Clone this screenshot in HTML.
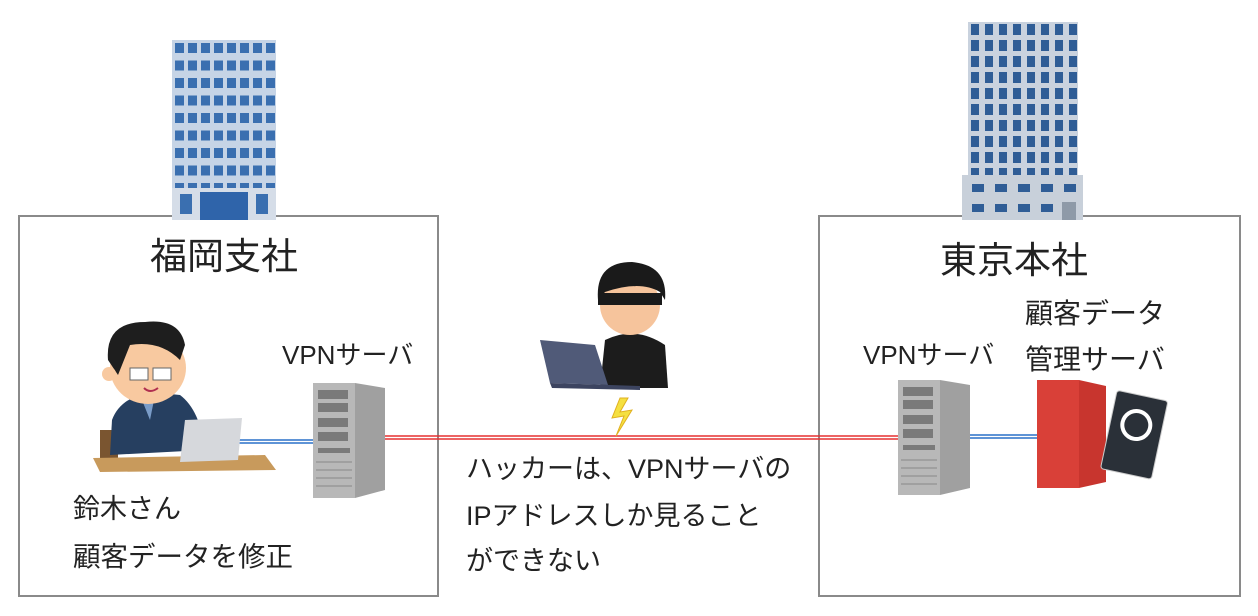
<!DOCTYPE html>
<html><head><meta charset="utf-8"><style>
html,body{margin:0;padding:0;background:#fff;}
body{width:1258px;height:616px;overflow:hidden;position:relative;font-family:"Liberation Sans","Noto Sans CJK JP",sans-serif;color:#222;}
.t{position:absolute;white-space:nowrap;}
</style></head><body>
<svg width="1258" height="616" style="position:absolute;left:0;top:0">
<defs>
<pattern id="winL" x="172" y="40" width="13" height="17.5" patternUnits="userSpaceOnUse">
<rect x="3" y="3" width="9" height="10" fill="#3a6fb0"/>
</pattern>
<pattern id="winR" x="968" y="22" width="14" height="16" patternUnits="userSpaceOnUse">
<rect x="3" y="2" width="8" height="11" fill="#2f5d96"/>
</pattern>
</defs>
<rect x="19" y="216" width="419" height="380" fill="none" stroke="#8a8a8a" stroke-width="2"/>
<rect x="819" y="216" width="421" height="380" fill="none" stroke="#8a8a8a" stroke-width="2"/>
<rect x="172" y="40" width="104" height="180" fill="#c6d4e6"/>
<rect x="172" y="40" width="104" height="150" fill="url(#winL)"/>
<rect x="172" y="188" width="104" height="32" fill="#d5dde8"/>
<rect x="180" y="194" width="12" height="20" fill="#3a6fb0"/>
<rect x="200" y="192" width="48" height="28" fill="#2f64aa"/>
<rect x="256" y="194" width="12" height="20" fill="#3a6fb0"/>
<rect x="968" y="22" width="110" height="155" fill="#c9d2de"/>
<rect x="968" y="22" width="110" height="155" fill="url(#winR)"/>
<rect x="962" y="175" width="121" height="45" fill="#c8d0da"/>
<g fill="#2f5d96">
<rect x="972" y="184" width="12" height="8"/><rect x="995" y="184" width="12" height="8"/><rect x="1018" y="184" width="12" height="8"/><rect x="1041" y="184" width="12" height="8"/><rect x="1064" y="184" width="12" height="8"/>
<rect x="972" y="204" width="12" height="8"/><rect x="995" y="204" width="12" height="8"/><rect x="1018" y="204" width="12" height="8"/><rect x="1041" y="204" width="12" height="8"/>
</g>
<rect x="1062" y="202" width="14" height="18" fill="#8e9aa8"/>
<line x1="385" y1="436" x2="898" y2="436" stroke="#e53030" stroke-width="1.5"/>
<line x1="385" y1="439" x2="898" y2="439" stroke="#e53030" stroke-width="1.5"/>
<line x1="234" y1="440" x2="313" y2="440" stroke="#2a70c8" stroke-width="1.5"/>
<line x1="234" y1="443" x2="313" y2="443" stroke="#2a70c8" stroke-width="1.5"/>
<line x1="970" y1="435" x2="1038" y2="435" stroke="#2a70c8" stroke-width="1.5"/>
<line x1="970" y1="438" x2="1038" y2="438" stroke="#2a70c8" stroke-width="1.5"/>
<rect x="100" y="430" width="18" height="30" fill="#7a5530"/>
<path d="M112 420 Q120 398 150 392 L180 395 Q200 410 205 450 L110 455 Z" fill="#263f60"/>
<path d="M140 395 L150 420 L155 395 Z" fill="#7a9cc8"/>
<ellipse cx="148" cy="368" rx="38" ry="36" fill="#f8c9a0"/>
<path d="M108 360 Q105 322 145 322 Q180 318 185 345 L180 360 Q160 340 130 345 L118 375 Z" fill="#1e1e1e"/>
<circle cx="109" cy="374" r="7" fill="#f8c9a0"/>
<rect x="130" y="368" width="18" height="12" fill="#fff" stroke="#666"/>
<rect x="153" y="368" width="18" height="12" fill="#fff" stroke="#666"/>
<path d="M144 388 Q150 394 158 388" stroke="#b03050" stroke-width="2" fill="none"/>
<path d="M93 458 L265 455 L276 470 L100 472 Z" fill="#c89a5c"/>
<path d="M185 420 L242 418 L238 460 L180 462 Z" fill="#d6d8dc"/>
<rect x="313" y="383" width="42" height="115" fill="#b8b8b8"/>
<path d="M355 383 L385 388 L385 490 L355 498 Z" fill="#a0a0a0"/>
<g fill="#7a7a7a"><rect x="318" y="390" width="30" height="9"/><rect x="318" y="403" width="30" height="9"/><rect x="318" y="418" width="30" height="9"/><rect x="318" y="432" width="30" height="9"/><rect x="318" y="448" width="32" height="5"/></g>
<g stroke="#888"><line x1="316" y1="462" x2="352" y2="462"/><line x1="316" y1="470" x2="352" y2="470"/><line x1="316" y1="478" x2="352" y2="478"/><line x1="316" y1="486" x2="352" y2="486"/></g>
<rect x="898" y="380" width="42" height="115" fill="#b8b8b8"/>
<path d="M940 380 L970 385 L970 488 L940 495 Z" fill="#a0a0a0"/>
<g fill="#7a7a7a"><rect x="903" y="387" width="30" height="9"/><rect x="903" y="400" width="30" height="9"/><rect x="903" y="415" width="30" height="9"/><rect x="903" y="429" width="30" height="9"/><rect x="903" y="445" width="32" height="5"/></g>
<g stroke="#888"><line x1="901" y1="460" x2="937" y2="460"/><line x1="901" y1="468" x2="937" y2="468"/><line x1="901" y1="476" x2="937" y2="476"/><line x1="901" y1="484" x2="937" y2="484"/></g>
<rect x="1037" y="380" width="42" height="108" fill="#d94038"/>
<path d="M1079 380 L1106 386 L1106 482 L1079 488 Z" fill="#c8352e"/>
<g transform="rotate(12 1135 436)"><rect x="1108" y="395" width="52" height="80" rx="3" fill="#2a3038" stroke="#ccc"/>
<circle cx="1134" cy="425" r="16" fill="#fff"/><circle cx="1134" cy="425" r="12" fill="#2a3038"/></g>
<path d="M605 340 Q635 325 665 345 L668 388 L600 388 Z" fill="#1c1c1c"/>
<circle cx="630" cy="305" r="30" fill="#f6c49c"/>
<path d="M598 300 Q595 262 632 262 Q668 265 665 300 L660 292 Q640 280 605 292 Z" fill="#1a1a1a"/>
<rect x="598" y="293" width="64" height="12" fill="#1a1a1a"/>
<path d="M540 340 L595 345 L608 385 L550 383 Z" fill="#505a78"/>
<path d="M550 383 L640 386 L640 390 L552 388 Z" fill="#3c4460"/>
<path d="M620 398 L612 418 L624 416 L616 436 L632 410 L620 412 L628 398 Z" fill="#f5e040" stroke="#e0b020"/>
</svg>
<div class="t" style="left:150px;top:226px;font-size:37px;">福岡支社</div>
<div class="t" style="left:940px;top:230px;font-size:37px;">東京本社</div>
<div class="t" style="left:282px;top:335px;font-size:26px;">VPNサーバ</div>
<div class="t" style="left:863px;top:335px;font-size:26px;">VPNサーバ</div>
<div class="t" style="left:1025px;top:292px;font-size:28px;">顧客データ</div>
<div class="t" style="left:1025px;top:338px;font-size:28px;">管理サーバ</div>
<div class="t" style="left:73px;top:487px;font-size:27px;">鈴木さん</div>
<div class="t" style="left:73px;top:534px;font-size:27.5px;">顧客データを修正</div>
<div class="t" style="left:466px;top:447px;font-size:27px;">ハッカーは、VPNサーバの</div>
<div class="t" style="left:466px;top:494px;font-size:27px;">IPアドレスしか見ること</div>
<div class="t" style="left:466px;top:539px;font-size:27px;">ができない</div>
</body></html>
